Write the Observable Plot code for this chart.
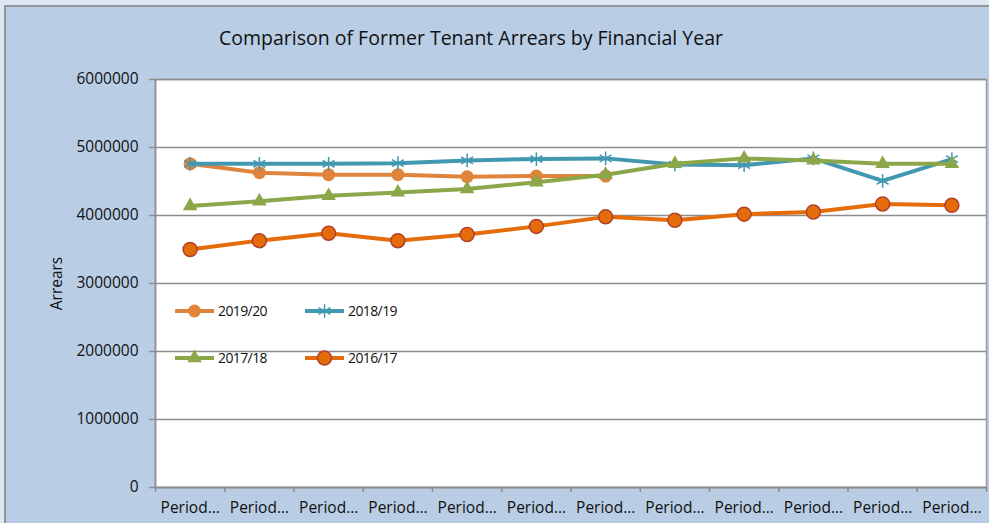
<!DOCTYPE html>
<html>
<head>
<meta charset="utf-8">
<script src="https://cdn.jsdelivr.net/npm/d3@7"></script>
<script src="https://cdn.jsdelivr.net/npm/@observablehq/plot@0.6"></script>
<style>
  html, body { margin: 0; padding: 0; background: #dfe7f1; overflow: hidden; }
  #wrap { position: relative; width: 989px; height: 523px; }
  #box { position: absolute; left: 4px; top: 5px; width: 990px; height: 520px;
         background: #b9cde5; border-left: 2px solid #8f959b; border-top: 2px solid #8f959b; }
  #chart, #legend { position: absolute; left: 0; top: 0; }
  svg { font-family: "Open Sans", sans-serif; }
</style>
</head>
<body>
<div id="wrap">
  <div id="box"></div>
  <div id="chart"></div>
  <svg id="legend" width="989" height="523"></svg>
</div>
<script>
const title = "Comparison of Former Tenant Arrears by Financial Year";
const yLabel = "Arrears";
const periodLabels = ["Period…","Period…","Period…","Period…","Period…","Period…","Period…","Period…","Period…","Period…","Period…","Period…"];
const yTicks = [0, 1000000, 2000000, 3000000, 4000000, 5000000, 6000000];

const seriesNames = ["2019/20", "2018/19", "2017/18", "2016/17"];
const v2019_20 = [4760000, 4630000, 4600000, 4600000, 4570000, 4580000, 4580000];
const v2018_19 = [4760000, 4760000, 4760000, 4770000, 4810000, 4830000, 4840000, 4750000, 4740000, 4840000, 4510000, 4830000];
const v2017_18 = [4140000, 4210000, 4290000, 4340000, 4390000, 4490000, 4600000, 4760000, 4840000, 4810000, 4760000, 4760000];
const v2016_17 = [3500000, 3630000, 3740000, 3630000, 3720000, 3840000, 3980000, 3930000, 4020000, 4050000, 4170000, 4150000];

const styles = {
  "2019/20": {color: "#e0843b", symbol: "circle", r: 6.5, fill: "#e0843b", stroke: "none"},
  "2018/19": {color: "#4298b0", symbol: "asterisk", r: 6.5, fill: "none", stroke: "#4298b0"},
  "2017/18": {color: "#8ca64a", symbol: "triangle", r: 5.4, fill: "#8ca64a", stroke: "none"},
  "2016/17": {color: "#e46c0a", symbol: "circle", r: 7, fill: "#e46c0a", stroke: "#b2412c"}
};
const valuesBy = {"2019/20": v2019_20, "2018/19": v2018_19, "2017/18": v2017_18, "2016/17": v2016_17};
const rows = seriesNames.flatMap(s => valuesBy[s].map((v, i) => ({series: s, i, v})));
const idx = periodLabels.map((_, i) => i);
const edges = [-0.5, ...idx.map(i => i + 0.5)];

const marks = [
  Plot.frame({fill: "white", stroke: "#9a9a9a", strokeWidth: 1.5}),
  Plot.gridY(yTicks, {stroke: "#8c8c8c", strokeOpacity: 1, strokeWidth: 1.5}),
  Plot.ruleY([0], {stroke: "#8c8c8c", strokeWidth: 1.5}),
  Plot.ruleX([-0.5], {stroke: "#8c8c8c", strokeWidth: 1.5}),
  Plot.axisY({ticks: yTicks, tickFormat: d3.format("d"), tickSize: 6, tickPadding: 11, fontSize: 15.5, letterSpacing: 0.6, stroke: "#8c8c8c", strokeWidth: 1.5, color: "#111", label: null}),
  Plot.axisX({ticks: edges, tickFormat: () => "", tickSize: 5, stroke: "#8c8c8c", strokeWidth: 1.5, label: null}),
  Plot.axisX({ticks: idx, tickFormat: i => periodLabels[i], tickSize: 0, tickPadding: 14, fontSize: 15.5, letterSpacing: 0.6, color: "#111", label: null}),
  Plot.text([title], {frameAnchor: "top", dx: -100, dy: -48, fontSize: 19.5, fill: "#111"}),
  Plot.text([yLabel], {frameAnchor: "left", textAnchor: "middle", rotate: -90, dx: -98, fontSize: 15.5, fill: "#111"})
];
for (const s of seriesNames) {
  const st = styles[s];
  const d = rows.filter(r => r.series === s);
  marks.push(Plot.line(d, {x: "i", y: "v", stroke: st.color, strokeWidth: 4}));
  marks.push(Plot.dot(d, {x: "i", y: "v", symbol: st.symbol, r: st.r, fill: st.fill, stroke: st.stroke, strokeWidth: 1.5}));
}

const chart = Plot.plot({
  width: 989, height: 523,
  marginLeft: 155, marginRight: 3, marginTop: 79, marginBottom: 36,
  style: {background: "transparent", fontFamily: "Open Sans, sans-serif", overflow: "visible"},
  x: {type: "linear", domain: [-0.5, 11.5], axis: null},
  y: {domain: [0, 6000000], axis: null},
  marks
});
document.getElementById("chart").append(chart);

// legend
const leg = d3.select("#legend");
const items = [
  {s: "2019/20", lx: 175, y: 311}, {s: "2018/19", lx: 305, y: 311},
  {s: "2017/18", lx: 175, y: 358}, {s: "2016/17", lx: 305, y: 358}
];
const sym = {circle: d3.symbolCircle, asterisk: d3.symbolAsterisk, triangle: d3.symbolTriangle};
for (const it of items) {
  const st = styles[it.s];
  const g = leg.append("g");
  g.append("line").attr("x1", it.lx).attr("x2", it.lx + 39).attr("y1", it.y).attr("y2", it.y)
    .attr("stroke", st.color).attr("stroke-width", 4);
  g.append("path").attr("transform", `translate(${it.lx + 19.5},${it.y})`)
    .attr("d", d3.symbol(sym[st.symbol], Math.PI * st.r * st.r)())
    .attr("fill", st.fill).attr("stroke", st.stroke).attr("stroke-width", 1.5);
  g.append("text").attr("x", it.lx + 43).attr("y", it.y).attr("dy", "0.35em")
    .attr("font-size", 14).attr("letter-spacing", -0.6).attr("fill", "#111").text(it.s);
}
</script>
</body>
</html>
